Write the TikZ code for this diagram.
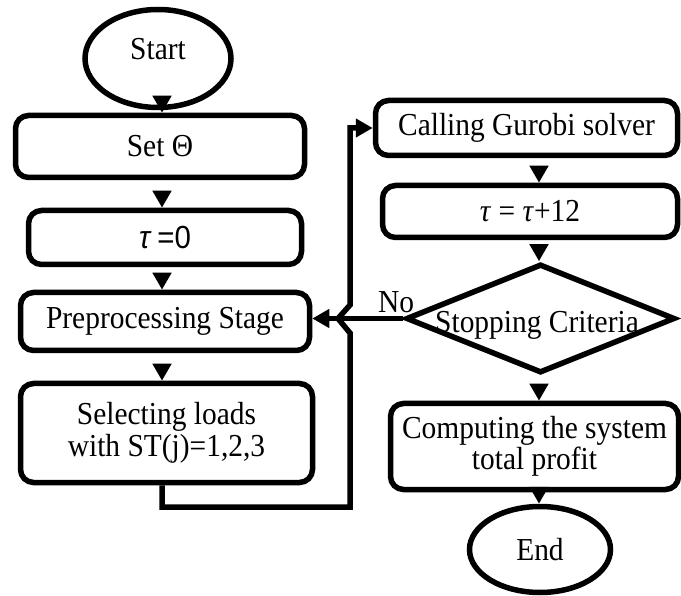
\documentclass[tikz,border=0pt]{standalone}
\usepackage{fontspec}
\setmainfont{Liberation Serif}[FakeStretch=0.92]
\setsansfont{Liberation Sans}[FakeStretch=0.92]
\usetikzlibrary{shapes.geometric,arrows.meta}
\begin{document}
\begin{tikzpicture}[x=1pt,y=-1pt,
  every node/.style={font=\fontsize{32}{31.5}\selectfont},
  box/.style={draw, line width=5.5pt, rounded corners=13pt, inner sep=0pt, align=center},
  oval/.style={draw, ellipse, line width=5.5pt, inner sep=0pt},
  decision/.style={draw, diamond, line width=5.5pt, inner sep=0pt},
  tip/.style={-{Triangle[length=17pt,width=18pt]}},
  flow/.style={line width=5.5pt, tip},
  wire/.style={line width=5.5pt, line join=miter, tip}]
\useasboundingbox (0,0) rectangle (681,596);

% guide columns for the vertical arrows
\coordinate (lc) at (162,0);
\coordinate (rc) at (539,0);

% left column
\node[oval, minimum width=146pt, minimum height=98pt, text depth=20pt] (start) at (158,58.5) {Start};
\node[box, minimum width=289pt, minimum height=62pt] (setT) at (160,146.5) {Set Θ};
\node[box, minimum width=273pt, minimum height=54pt] (tau0) at (165,237.5) {{\sffamily\itshape τ} {\sffamily =0}};
\node[box, minimum width=289pt, minimum height=58pt] (pre) at (165,321.5) {Preprocessing Stage};
\node[box, minimum width=292pt, minimum height=99pt] (sel) at (166.5,433) {Selecting loads\\with ST(j)=1,2,3};

% right column
\node[box, minimum width=302pt, minimum height=55pt] (gur) at (526.5,128) {Calling Gurobi solver};
\node[box, minimum width=295pt, minimum height=52pt] (tau12) at (530,211.5) {\textit{τ} = \textit{τ}+12};
\node[decision, minimum width=269pt, minimum height=109pt] (stop) at (540.5,318.5) {};
\node[anchor=base, inner sep=0pt] (stoptxt) at (537,333) {Stopping Criteria};
\node[box, minimum width=288pt, minimum height=86pt] (comp) at (534.5,446.5) {Computing the system\\total profit};
\node[oval, minimum width=141pt, minimum height=86pt] (end) at (540,549.5) {End};

\node[anchor=base, inner sep=0pt] (no) at (396,313) {No};

% straight flow arrows
\draw[flow] (start.south -| lc) -- (setT.north -| lc);
\draw[flow, shorten <=15pt] (setT.south -| lc) -- (tau0.north -| lc);
\draw[flow, shorten <=10pt] (tau0.south -| lc) -- (pre.north -| lc);
\draw[flow, shorten <=15pt] (pre.south -| lc) -- (sel.north -| lc);
\draw[flow, shorten <=12pt] (gur.south -| rc) -- (tau12.north -| rc);
\draw[flow, shorten <=9pt] (tau12.south -| rc) -- (stop.north -| rc);
\draw[flow, shorten <=12pt] (stop.south -| rc) -- (comp.north -| rc);
\draw[flow] (comp.south -| rc) -- (end.north -| rc);

% "No" branch back to preprocessing
\draw[flow] (stop.west) -- (stop.west -| pre.east);

% loop from load selection up to the solver, hopping over the No branch
\coordinate (c1) at (350,507);
\coordinate (j1) at (350,333);
\coordinate (j2) at (338,318.5);
\coordinate (j3) at (350,305);
\draw[wire] (sel.south -| lc) |- (c1) -- (j1) -- (j2) -- (j3) |- (gur.west);
\end{tikzpicture}
\end{document}
